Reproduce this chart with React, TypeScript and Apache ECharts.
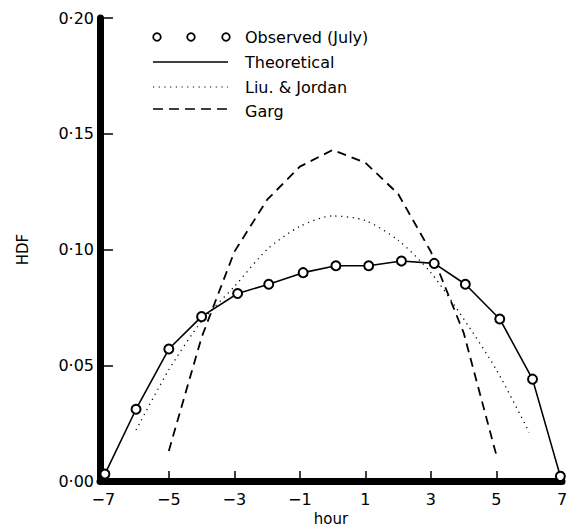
import { useEffect, useRef } from "react";
import * as echarts from "echarts";

// Observed (July) hourly diffuse fraction
const observedHours = [-6.95, -6, -5, -4, -2.9, -1.95, -0.9, 0.1, 1.1, 2.1, 3.1, 4.05, 5.1, 6.1, 6.95];
const observedHDF = [0.003, 0.031, 0.057, 0.071, 0.081, 0.085, 0.09, 0.093, 0.093, 0.095, 0.094, 0.085, 0.07, 0.044, 0.002];
// Theoretical curve (solid) passes through the observed points
const theoreticalHDF = [0.003, 0.031, 0.057, 0.071, 0.081, 0.085, 0.09, 0.093, 0.093, 0.095, 0.094, 0.085, 0.07, 0.044, 0.002];
// Liu & Jordan (dotted)
const liuJordanHours = [-6, -5, -4, -3, -2, -1, 0, 1, 2, 3, 4, 5, 6];
const liuJordanHDF = [0.022, 0.048, 0.069, 0.084, 0.1, 0.11, 0.1145, 0.1125, 0.104, 0.09, 0.07, 0.048, 0.021];
// Garg (dashed)
const gargHours = [-5, -4, -3, -2, -1, 0, 1, 2, 3, 4, 5];
const gargHDF = [0.013, 0.062, 0.099, 0.1215, 0.1358, 0.143, 0.1375, 0.124, 0.099, 0.064, 0.011];

const xTicks = [-7, -5, -3, -1, 1, 3, 5, 7];
const legendLabels = ["Observed (July)", "Theoretical", "Liu. & Jordan", "Garg"];

const FONT = "DejaVu Sans";

export default function App() {
  const ref = useRef<HTMLDivElement>(null);
  useEffect(() => {
    if (!ref.current) return;
    const chart = echarts.init(ref.current, undefined, { renderer: "svg" });
    const pair = (xs: number[], ys: number[]) => xs.map((x, i) => [x, ys[i]]);
    const legendX0 = 153;
    const legendX1 = 228;
    const textX = 245;
    const rows = [37, 62, 87, 111];
    chart.setOption({
      animation: false,
      backgroundColor: "#fff",
      grid: { left: 100, right: 10, top: 18, bottom: 48, outerBoundsMode: "none", containLabel: false },
      xAxis: {
        type: "value",
        min: -7.1,
        max: 7,
        name: "hour",
        nameLocation: "middle",
        nameGap: 30,
        nameMoveOverlap: false,
        nameTextStyle: { color: "#000", fontFamily: FONT, fontSize: 15 },
        axisLine: { show: true, onZero: false, lineStyle: { color: "#000", width: 7 } },
        axisTick: { show: true, inside: true, length: 10, lineStyle: { color: "#000", width: 1.5 }, customValues: xTicks },
        axisLabel: {
          customValues: xTicks,
          color: "#000",
          fontFamily: FONT,
          fontSize: 16,
          margin: 10,
          formatter: (v: number) => (v < 0 ? "\u2212" + Math.abs(v) : String(v)),
        },
        splitLine: { show: false },
      },
      yAxis: {
        type: "value",
        min: 0,
        max: 0.2,
        interval: 0.05,
        name: "HDF",
        nameLocation: "middle",
        nameGap: 70,
        nameMoveOverlap: false,
        nameRotate: 90,
        nameTextStyle: { color: "#000", fontFamily: FONT, fontSize: 15 },
        axisLine: { show: true, onZero: false, lineStyle: { color: "#000", width: 7 } },
        axisTick: { show: true, inside: true, length: 13, lineStyle: { color: "#000", width: 1.5 } },
        axisLabel: {
          color: "#000",
          fontFamily: FONT,
          fontSize: 16,
          margin: 6,
          formatter: (v: number) => v.toFixed(2).replace(".", "\u00b7"),
        },
        splitLine: { show: false },
      },
      series: [
        {
          name: legendLabels[3],
          type: "line",
          data: pair(gargHours, gargHDF),
          showSymbol: false,
          lineStyle: { color: "#000", width: 1.8, type: [9, 6] },
          z: 2,
        },
        {
          name: legendLabels[2],
          type: "line",
          data: pair(liuJordanHours, liuJordanHDF),
          showSymbol: false,
          smooth: 0.25,
          lineStyle: { color: "#000", width: 1.3, type: [1.2, 4.5] },
          z: 2,
        },
        {
          name: legendLabels[1],
          type: "line",
          data: pair(observedHours, theoreticalHDF),
          showSymbol: false,
          lineStyle: { color: "#000", width: 1.6 },
          z: 3,
        },
        {
          name: legendLabels[0],
          type: "scatter",
          data: pair(observedHours, observedHDF),
          symbol: "circle",
          symbolSize: 9,
          itemStyle: { color: "#fff", borderColor: "#000", borderWidth: 2, opacity: 1 },
          z: 5,
        },
      ],
      graphic: [
        { type: "circle", shape: { cx: 157, cy: rows[0], r: 3.8 }, style: { fill: "#fff", stroke: "#000", lineWidth: 1.8 } },
        { type: "circle", shape: { cx: 191, cy: rows[0], r: 3.8 }, style: { fill: "#fff", stroke: "#000", lineWidth: 1.8 } },
        { type: "circle", shape: { cx: 226, cy: rows[0], r: 3.8 }, style: { fill: "#fff", stroke: "#000", lineWidth: 1.8 } },
        { type: "line", shape: { x1: legendX0, y1: rows[1], x2: legendX1, y2: rows[1] }, style: { stroke: "#000", lineWidth: 1.4 } },
        { type: "line", shape: { x1: legendX0, y1: rows[2], x2: legendX1, y2: rows[2] }, style: { stroke: "#000", lineWidth: 1.2, lineDash: [1.2, 4.5] } },
        { type: "line", shape: { x1: legendX0, y1: rows[3] - 2, x2: legendX1, y2: rows[3] - 2 }, style: { stroke: "#000", lineWidth: 1.6, lineDash: [10, 6] } },
        ...legendLabels.map((t, i) => ({
          type: "text",
          x: textX,
          y: rows[i],
          style: { text: t, fill: "#000", font: `16px "${FONT}"`, textVerticalAlign: "middle", verticalAlign: "middle" },
        })),
      ],
    });
    return () => chart.dispose();
  }, []);
  return <div ref={ref} style={{ position: "fixed", left: 0, top: 0, width: 572, height: 529 }} />;
}
